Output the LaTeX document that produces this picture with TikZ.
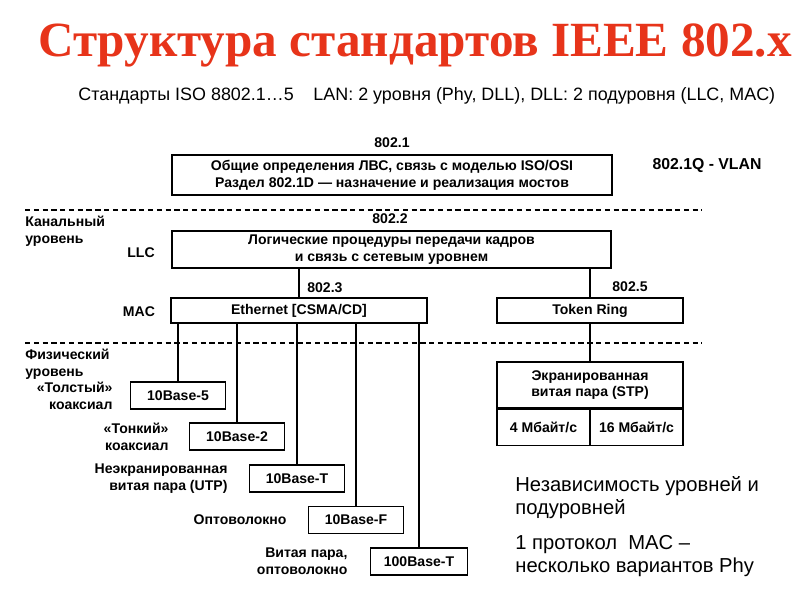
\documentclass[tikz,border=0pt]{standalone}
\usepackage{fontspec}
\setmainfont{Liberation Sans}
\newfontfamily\titlefont{Liberation Serif}
\usetikzlibrary{positioning}
\definecolor{titlered}{RGB}{231,52,26}

\begin{document}
\begin{tikzpicture}[x=0.02cm, y=-0.02cm,
  box/.style={draw, line width=0.8pt, inner sep=0pt, align=center,
    font=\fontsize{8}{9.5}\selectfont\bfseries},
  phy/.style={box, minimum width=1.9cm, minimum height=0.54cm},
  lbl/.style={inner sep=0pt, font=\fontsize{8}{9.5}\selectfont\bfseries},
  layer/.style={line width=0.6pt, dash pattern=on 3pt off 2pt},
  wire/.style={line width=0.8pt},
  note/.style={anchor=base west, inner sep=0pt, align=left, font=\fontsize{11.5}{12.8}\selectfont},
  node distance=0.4cm]
\useasboundingbox (0,0) rectangle (800,600);

% heading
\node[font=\titlefont\bfseries\fontsize{28}{30}\selectfont, text=titlered] (title) at (415,45) {Структура стандартов IEEE 802.x};
\node[anchor=base west, inner sep=0pt, font=\fontsize{10.2}{12}\selectfont] (sub) at (78,100)
  {Стандарты ISO 8802.1…5\hspace{1.1em}LAN: 2 уровня (Phy, DLL), DLL: 2 подуровня (LLC, MAC)};

% 802.1
\node[box, minimum width=8.8cm, minimum height=0.8cm] (gen) at (392,175) {Общие определения ЛВС, связь с моделью ISO/OSI\\Раздел 802.1D — назначение и реализация мостов};
\node[lbl] (n8021) at (392,143) {802.1};
\node[font=\fontsize{9}{10}\selectfont\bfseries] (vlan) at (707,166) {802.1Q - VLAN};

\draw[layer] (25,210) -- (702,210);

% LLC / MAC
\node[lbl, align=left, anchor=north west] (dll) at (25,216) {Канальный\\уровень};
\node[lbl] (n8022) at (390,219) {802.2};
\node[box, minimum width=8.78cm, minimum height=0.74cm] (llc) at (391.5,249.5) {Логические процедуры передачи кадров\\и связь с сетевым уровнем};
\node[lbl] (nllc) at (141,253) {LLC};
\node[box, minimum width=5.12cm, minimum height=0.5cm] (eth) at (299,310.5) {Ethernet [CSMA/CD]};
\node[box, minimum width=3.72cm, minimum height=0.5cm] (tok) at (590,310.5) {Token Ring};
\node[lbl] (nmac) at (139,312) {MAC};
\node[lbl, anchor=west] (n8023) at (307,288) {802.3};
\node[lbl] (n8025) at (630,287) {802.5};
\draw[wire] (eth.north) -- (eth.north |- llc.south);
\draw[wire] (tok.north) -- (tok.north |- llc.south);

\draw[layer] (25,343) -- (702,343);

% physical layer
\node[lbl, align=left, anchor=north west] (phl) at (25,349) {Физический\\уровень};
\node[phy] (b5) at (178,395.5) {10Base-5};
\node[phy] (b2) at (237,436.5) {10Base-2};
\node[phy] (bt) at (297,478.5) {10Base-T};
\node[phy] (bf) at (356,520) {10Base-F};
\node[phy, minimum width=1.94cm] (b100) at (419,561.5) {100Base-T};
\node[lbl, align=right, left=0.34cm of b5] (thick) {«Толстый»\\коаксиал};
\node[lbl, align=right, left=0.4cm of b2] (thin) {«Тонкий»\\коаксиал};
\node[lbl, align=right, left=0.42cm of bt] (utp) {Неэкранированная\\витая пара (UTP)};
\node[lbl, align=right, left=0.42cm of bf] (fib) {Оптоволокно};
\node[lbl, align=right, left=0.44cm of b100] (tpf) {Витая пара,\\оптоволокно};
\foreach \b in {b5,b2,bt,bf,b100}
  \draw[wire] (\b.north) -- (\b.north |- eth.south);

% token ring media
\node[box, minimum width=3.72cm, minimum height=0.92cm] (stp) at (590,385) {Экранированная\\витая пара (STP)};
\node[box, minimum width=1.86cm, minimum height=0.72cm, anchor=north west] (mb4) at (stp.south west) {4 Мбайт/с};
\node[box, minimum width=1.86cm, minimum height=0.72cm, anchor=north east] (mb16) at (stp.south east) {16 Мбайт/с};
\draw[wire] (tok.south) -- (stp.north);

% notes
\node[note] (indep) at (515,514) {Независимость уровней и\\подуровней};
\node[note] (proto) at (515,572) {1 протокол\ \ MAC –\\несколько вариантов Phy};
\end{tikzpicture}
\end{document}
